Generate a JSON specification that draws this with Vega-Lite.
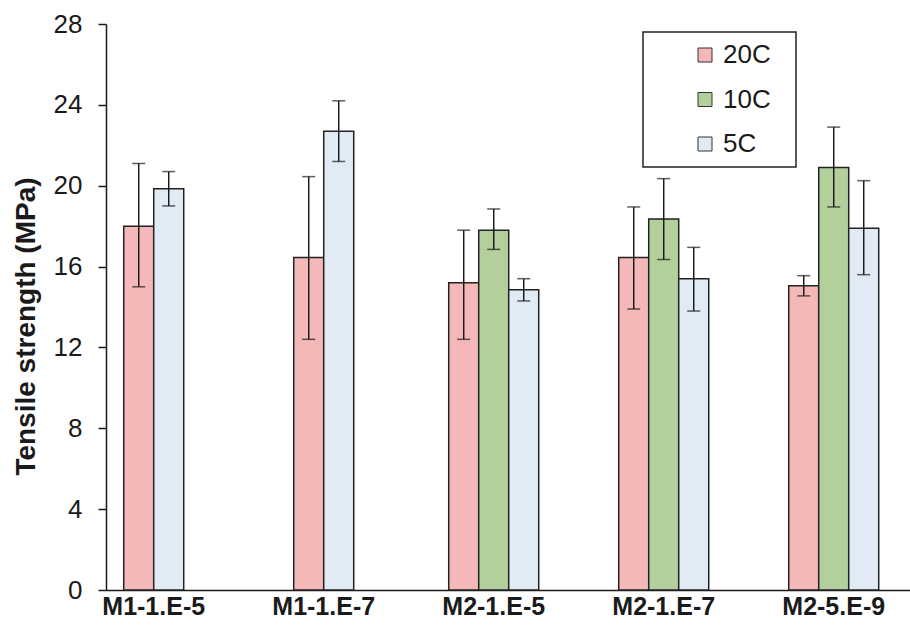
{
  "$schema": "https://vega.github.io/schema/vega-lite/v6.json",
  "width": 804,
  "height": 566,
  "autosize": {"type": "none"},
  "padding": {"left": 106, "top": 24, "right": 0, "bottom": 45},
  "background": "white",
  "config": {
    "view": {"stroke": null},
    "font": "Liberation Sans",
    "axis": {"domainColor": "#1a1a1a", "domainWidth": 1.5, "tickColor": "#1a1a1a", "tickWidth": 1.5, "labelColor": "#1a1a1a", "titleColor": "#1a1a1a", "labelFont": "Liberation Sans", "titleFont": "Liberation Sans", "grid": false},
    "legend": {
      "orient": "none", "legendX": 537, "legendY": 8,
      "strokeColor": "#222", "strokeWidth": 1.5, "padding": 10,
      "symbolType": "square", "symbolSize": 196, "symbolStrokeColor": "#333", "symbolStrokeWidth": 1,
      "labelFontSize": 26, "labelFont": "Liberation Sans", "labelColor": "#1a1a1a",
      "rowPadding": 18.5, "symbolOffset": 39, "labelOffset": 5
    }
  },
  "datasets": {
    "m1": [
      {"mix": "M1-1.E-5", "temp": "20C", "mean": 18.0, "lo": 15.0, "hi": 21.1},
      {"mix": "M1-1.E-5", "temp": "5C", "mean": 19.85, "lo": 19.0, "hi": 20.7},
      {"mix": "M1-1.E-7", "temp": "20C", "mean": 16.45, "lo": 12.4, "hi": 20.45},
      {"mix": "M1-1.E-7", "temp": "5C", "mean": 22.7, "lo": 21.2, "hi": 24.2}
    ],
    "m2": [
      {"mix": "M2-1.E-5", "temp": "20C", "mean": 15.2, "lo": 12.4, "hi": 17.8},
      {"mix": "M2-1.E-5", "temp": "10C", "mean": 17.8, "lo": 16.85, "hi": 18.85},
      {"mix": "M2-1.E-5", "temp": "5C", "mean": 14.85, "lo": 14.3, "hi": 15.4},
      {"mix": "M2-1.E-7", "temp": "20C", "mean": 16.45, "lo": 13.9, "hi": 18.95},
      {"mix": "M2-1.E-7", "temp": "10C", "mean": 18.35, "lo": 16.35, "hi": 20.35},
      {"mix": "M2-1.E-7", "temp": "5C", "mean": 15.4, "lo": 13.8, "hi": 16.95},
      {"mix": "M2-5.E-9", "temp": "20C", "mean": 15.05, "lo": 14.55, "hi": 15.55},
      {"mix": "M2-5.E-9", "temp": "10C", "mean": 20.9, "lo": 18.95, "hi": 22.9},
      {"mix": "M2-5.E-9", "temp": "5C", "mean": 17.9, "lo": 15.6, "hi": 20.25}
    ]
  },
  "layer": [
    {
      "mark": {"type": "rule", "color": "#1a1a1a", "strokeWidth": 1.5},
      "encoding": {"y": {"datum": 28, "type": "quantitative", "scale": {"domain": [0, 28], "nice": false}}}
    },
    {
      "data": {"name": "m1"},
      "encoding": {
        "x": {"field": "mix", "type": "nominal", "sort": null,
          "scale": {"domain": ["M1-1.E-5", "M1-1.E-7", "M2-1.E-5", "M2-1.E-7", "M2-5.E-9"], "paddingInner": 0.4706, "paddingOuter": 0.1, "align": 0.08},
          "axis": {"title": null, "ticks": false, "labelAngle": 0, "labelFontSize": 25, "labelFontWeight": "bold", "labelPadding": 4}},
        "xOffset": {"field": "temp", "type": "nominal", "scale": {"domain": ["20C", "5C"], "paddingInner": 0, "paddingOuter": 0.5}}
      },
      "layer": [
        {
          "mark": {"type": "bar", "stroke": "#222", "strokeWidth": 1.5},
          "encoding": {
            "y": {"field": "mean", "type": "quantitative", "title": "Tensile strength (MPa)",
              "scale": {"domain": [0, 28], "nice": false},
              "axis": {"values": [0, 4, 8, 12, 16, 20, 24, 28], "tickSize": 8, "labelFontSize": 26, "labelPadding": 16,
                "titleFontSize": 28, "titleFontWeight": "bold", "titleX": -80, "titleY": 302, "titleAlign": "center", "titleBaseline": "middle", "titleAngle": -90}},
            "fill": {"field": "temp", "type": "nominal", "title": null,
              "scale": {"domain": ["20C", "10C", "5C"], "range": ["#f5b8b8", "#b3cf9b", "#e1ebf6"]},
              "legend": {"labelExpr": "datum.label + '\u00a0\u00a0\u200b'"}}
          }
        },
        {
          "mark": {"type": "rule", "color": "#1a1a1a", "strokeWidth": 1.5},
          "encoding": {"y": {"field": "lo", "type": "quantitative", "title": "Tensile strength (MPa)"}, "y2": {"field": "hi"}}
        },
        {
          "mark": {"type": "tick", "color": "#1a1a1a", "thickness": 1.5, "size": 13},
          "encoding": {"y": {"field": "lo", "type": "quantitative", "title": "Tensile strength (MPa)"}}
        },
        {
          "mark": {"type": "tick", "color": "#1a1a1a", "thickness": 1.5, "size": 13},
          "encoding": {"y": {"field": "hi", "type": "quantitative", "title": "Tensile strength (MPa)"}}
        }
      ]
    },
    {
      "data": {"name": "m2"},
      "encoding": {
        "x": {"field": "mix", "type": "nominal", "sort": null,
          "scale": {"domain": ["M1-1.E-5", "M1-1.E-7", "M2-1.E-5", "M2-1.E-7", "M2-5.E-9"], "paddingInner": 0.4706, "paddingOuter": 0.1, "align": 0.08},
          "axis": {"title": null, "ticks": false, "labelAngle": 0, "labelFontSize": 25, "labelFontWeight": "bold", "labelPadding": 4}},
        "xOffset": {"field": "temp", "type": "nominal", "scale": {"domain": ["20C", "10C", "5C"], "paddingInner": 0, "paddingOuter": 0}}
      },
      "layer": [
        {
          "mark": {"type": "bar", "stroke": "#222", "strokeWidth": 1.5},
          "encoding": {
            "y": {"field": "mean", "type": "quantitative", "title": "Tensile strength (MPa)"},
            "fill": {"field": "temp", "type": "nominal", "title": null,
              "scale": {"domain": ["20C", "10C", "5C"], "range": ["#f5b8b8", "#b3cf9b", "#e1ebf6"]},
              "legend": {"labelExpr": "datum.label + '\u00a0\u00a0\u200b'"}}
          }
        },
        {
          "mark": {"type": "rule", "color": "#1a1a1a", "strokeWidth": 1.5},
          "encoding": {"y": {"field": "lo", "type": "quantitative", "title": "Tensile strength (MPa)"}, "y2": {"field": "hi"}}
        },
        {
          "mark": {"type": "tick", "color": "#1a1a1a", "thickness": 1.5, "size": 13},
          "encoding": {"y": {"field": "lo", "type": "quantitative", "title": "Tensile strength (MPa)"}}
        },
        {
          "mark": {"type": "tick", "color": "#1a1a1a", "thickness": 1.5, "size": 13},
          "encoding": {"y": {"field": "hi", "type": "quantitative", "title": "Tensile strength (MPa)"}}
        }
      ]
    }
  ],
  "resolve": {"scale": {"xOffset": "independent"}}
}
